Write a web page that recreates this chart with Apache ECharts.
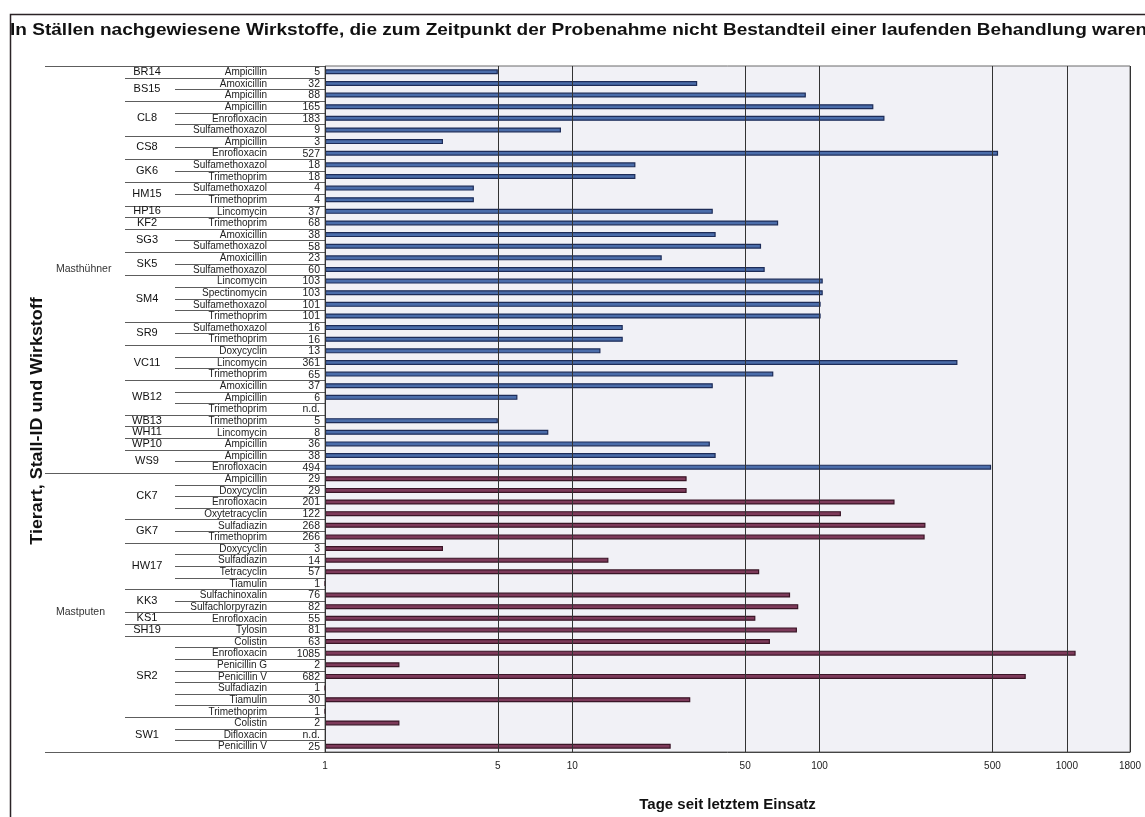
<!DOCTYPE html>
<html><head><meta charset="utf-8">
<script src="https://cdn.jsdelivr.net/npm/echarts@6/dist/echarts.min.js"></script>
<style>html,body{margin:0;padding:0;background:#fff}#c{width:1145px;height:817px}</style>
</head><body><div id="c"></div>
<script>
const titleText = 'In Ställen nachgewiesene Wirkstoffe, die zum Zeitpunkt der Probenahme nicht Bestandteil einer laufenden Behandlung waren';
const speciesNames = ['Masthühner', 'Mastputen'];
const species = [
  0,0,0,0,0,0,0,0,0,0,0,0,0,0,0,0,0,0,0,0,0,0,0,0,0,0,0,0,0,0,0,0,0,0,0,
  1,1,1,1,1,1,1,1,1,1,1,1,1,1,1,1,1,1,1,1,1,1,1,1
];
const stalls = [
  'BR14','BS15','BS15','CL8','CL8','CL8','CS8','CS8','GK6','GK6','HM15','HM15','HP16','KF2',
  'SG3','SG3','SK5','SK5','SM4','SM4','SM4','SM4','SR9','SR9','VC11','VC11','VC11',
  'WB12','WB12','WB12','WB13','WH11','WP10','WS9','WS9',
  'CK7','CK7','CK7','CK7','GK7','GK7','HW17','HW17','HW17','HW17','KK3','KK3','KS1','SH19',
  'SR2','SR2','SR2','SR2','SR2','SR2','SR2','SW1','SW1','SW1'
];
const drugs = [
  'Ampicillin','Amoxicillin','Ampicillin','Ampicillin','Enrofloxacin','Sulfamethoxazol','Ampicillin','Enrofloxacin',
  'Sulfamethoxazol','Trimethoprim','Sulfamethoxazol','Trimethoprim','Lincomycin','Trimethoprim',
  'Amoxicillin','Sulfamethoxazol','Amoxicillin','Sulfamethoxazol','Lincomycin','Spectinomycin','Sulfamethoxazol','Trimethoprim',
  'Sulfamethoxazol','Trimethoprim','Doxycyclin','Lincomycin','Trimethoprim','Amoxicillin','Ampicillin','Trimethoprim',
  'Trimethoprim','Lincomycin','Ampicillin','Ampicillin','Enrofloxacin',
  'Ampicillin','Doxycyclin','Enrofloxacin','Oxytetracyclin','Sulfadiazin','Trimethoprim','Doxycyclin','Sulfadiazin',
  'Tetracyclin','Tiamulin','Sulfachinoxalin','Sulfachlorpyrazin','Enrofloxacin','Tylosin',
  'Colistin','Enrofloxacin','Penicillin G','Penicillin V','Sulfadiazin','Tiamulin','Trimethoprim',
  'Colistin','Difloxacin','Penicillin V'
];
// null = n.d.
const days = [
  5,32,88,165,183,9,3,527,18,18,4,4,37,68,38,58,23,60,103,103,101,101,16,16,13,361,65,37,6,null,5,8,36,38,494,
  29,29,201,122,268,266,3,14,57,1,76,82,55,81,63,1085,2,682,1,30,1,2,null,25
];
const tickValues = [1,5,10,50,100,500,1000,1800];
const xAxisTitle = 'Tage seit letztem Einsatz';
const yAxisTitle = 'Tierart, Stall-ID und Wirkstoff';

const fillColors = ['#4b6daa', '#7d3a5a'];
const edgeColors = ['#1d2c58', '#3a1526'];
const n = drugs.length;
const FONT = "'Liberation Sans', Arial, sans-serif";

const barData = days.map((v, i) => ({
  value: v === null ? '-' : v,
  itemStyle: { color: fillColors[species[i]], borderColor: edgeColors[species[i]] }
}));

function groupCount(arr, i) {
  let k = i; while (k < n && arr[k] === arr[i]) k++;
  return k - i;
}

const chart = echarts.init(document.getElementById('c'), null, { renderer: 'canvas' });
chart.setOption({
  animation: false,
  backgroundColor: '#ffffff',
  graphic: [
    { type: 'rect', left: 8, top: 12, shape: { width: 1300, height: 900 }, style: { fill: 'none', stroke: '#2b2326', lineWidth: 1.5 }, silent: true },
    { type: 'text', x: 10, y: 30, scaleX: 1.12, style: { text: titleText, font: "bold 17px " + FONT, fill: '#111', textVerticalAlign: 'middle' } },
    { type: 'text', x: 38, y: 421, rotation: Math.PI / 2, scaleX: 1.12, style: { text: yAxisTitle, font: "bold 16px " + FONT, fill: '#111', textAlign: 'center', textVerticalAlign: 'middle' } }
  ],
  grid: { left: 325, right: 15, top: 66, bottom: 62, show: true, backgroundColor: '#f1f1f6', borderColor: '#6a6a6a', borderWidth: 1 },
  xAxis: {
    type: 'log', logBase: 10, min: 1, max: 1800,
    axisLine: { show: true, lineStyle: { color: '#444' } },
    axisTick: { show: false }, axisLabel: { show: false }, splitLine: { show: false },
    name: xAxisTitle, nameLocation: 'middle', nameGap: 45,
    nameTextStyle: { fontFamily: FONT, fontWeight: 'bold', fontSize: 15, color: '#111' }
  },
  yAxis: {
    type: 'category', inverse: true, data: drugs,
    axisLine: { show: false }, axisTick: { show: false }, axisLabel: { show: false }
  },
  series: [
    {
      type: 'bar', data: barData, barWidth: 5,
      itemStyle: { borderWidth: 1.2 },
      markLine: {
        silent: true, symbol: 'none', animation: false,
        lineStyle: { color: '#333', width: 1, type: 'solid' },
        label: { show: true, position: 'end', distance: 9, formatter: p => String(p.value), fontFamily: FONT, fontSize: 10, color: '#222' },
        data: tickValues.map(v => ({ xAxis: v }))
      }
    },
    {
      type: 'custom', clip: false, silent: true,
      data: drugs.map((d, i) => [1, i]),
      encode: { x: 0, y: 1 },
      renderItem: function (params, api) {
        const i = params.dataIndex;
        const c = api.coord([1, i]);
        const h = api.size([0, 1])[1];
        const px = c[0];
        const y = c[1];
        const kids = [];
        const lineStyle = { stroke: '#333', lineWidth: 0.8 };
        const yb = Math.round(y + h / 2) + 0.5;
        let xs;
        if (i === n - 1 || species[i + 1] !== species[i]) xs = 45;
        else if (stalls[i + 1] !== stalls[i]) xs = 125;
        else xs = 175;
        kids.push({ type: 'line', shape: { x1: xs, y1: yb, x2: px, y2: yb }, style: lineStyle });
        if (i === 0) {
          const yt = Math.round(y - h / 2) + 0.5;
          kids.push({ type: 'line', shape: { x1: 45, y1: yt, x2: px, y2: yt }, style: lineStyle });
        }
        kids.push({ type: 'text', x: 267, y: y + 0.5, style: { text: drugs[i], font: '10px ' + FONT, fill: '#222', textAlign: 'right', textVerticalAlign: 'middle' } });
        kids.push({ type: 'text', x: 320, y: y + 0.5, style: { text: days[i] === null ? 'n.d.' : String(days[i]), font: '10.5px ' + FONT, fill: '#222', textAlign: 'right', textVerticalAlign: 'middle' } });
        if (i === 0 || stalls[i - 1] !== stalls[i]) {
          const k = groupCount(stalls, i);
          kids.push({ type: 'text', x: 147, y: y + (k - 1) / 2 * h, style: { text: stalls[i], font: '11px ' + FONT, fill: '#111', textAlign: 'center', textVerticalAlign: 'middle' } });
        }
        if (i === 0 || species[i - 1] !== species[i]) {
          const k = groupCount(species, i);
          kids.push({ type: 'text', x: 56, y: y + (k - 1) / 2 * h, style: { text: speciesNames[species[i]], font: '10.5px ' + FONT, fill: '#333', textAlign: 'left', textVerticalAlign: 'middle' } });
        }
        return { type: 'group', children: kids };
      }
    }
  ]
});
</script>
</body></html>
